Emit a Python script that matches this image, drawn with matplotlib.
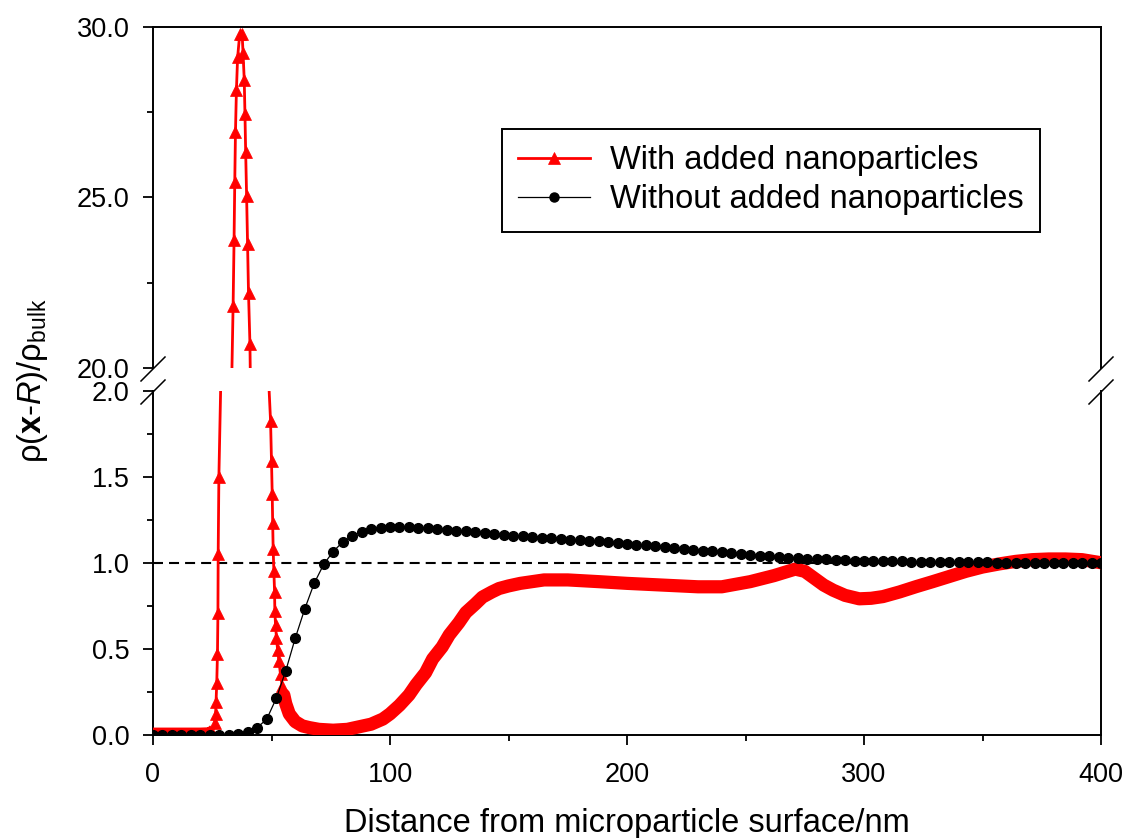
import numpy as np
import matplotlib
matplotlib.use("Agg")
import matplotlib.pyplot as plt
from matplotlib.lines import Line2D
from matplotlib.ticker import MultipleLocator, FormatStrFormatter

plt.rcParams['font.family'] = ['Liberation Sans', 'DejaVu Sans']
plt.rcParams['mathtext.fontset'] = 'custom'
plt.rcParams['mathtext.rm'] = 'Liberation Sans'
plt.rcParams['mathtext.it'] = 'Liberation Sans:italic'
plt.rcParams['mathtext.bf'] = 'Liberation Sans:bold'

# red curve: with added nanoparticles (points inside the axis break are hidden)
dist_with = [0, 5, 10, 15, 20, 24, 25.5,
             26.0, 26.4, 26.6, 26.9, 27.2, 27.4, 27.5, 27.8,
             29.4, 30.5, 31.8, 33.1,
             33.8, 34.2, 34.5, 34.8, 35.2, 35.7, 36.6, 37.6, 38.0, 38.5,
             38.8, 39.1, 39.5, 39.9, 40.3, 40.9,
             41.2, 43.0, 45.0, 47.0, 48.5,
             49.6, 50.0, 50.3, 50.5, 50.7, 51.0, 51.3, 51.4, 51.7, 52.1,
             52.6, 53.1, 53.8, 54.5,
             55.2, 56.0, 57.5, 60, 63, 66, 70, 76, 82, 87, 92, 97, 100,
             104, 108, 111, 115, 118, 122, 125, 129, 132, 136, 139, 143,
             146, 150, 155, 160, 165, 175, 188, 200, 215, 230, 240, 252,
             262, 271, 275, 278, 283, 287, 292, 298, 303, 308, 315, 322,
             329, 336, 343, 350, 357, 364, 371, 378, 385, 392, 400]
rho_with = [0.01, 0.01, 0.01, 0.01, 0.01, 0.012, 0.03,
            0.065, 0.12, 0.19, 0.30, 0.47, 0.71, 1.05, 1.50,
            2.6, 5.5, 11.5, 19.2,
            21.83, 23.74, 25.45, 26.93, 28.15, 29.11, 29.8, 29.8, 29.23, 28.45,
            27.45, 26.33, 25.03, 23.64, 22.2, 20.71,
            19.0, 13.0, 7.5, 3.8, 2.15,
            1.826, 1.59, 1.40, 1.23, 1.08, 0.95, 0.83, 0.72, 0.64, 0.56,
            0.49, 0.43, 0.35, 0.28,
            0.23, 0.18, 0.12, 0.075, 0.05, 0.04, 0.03, 0.025, 0.03, 0.045, 0.06, 0.09, 0.12,
            0.17, 0.23, 0.29, 0.36, 0.44, 0.51, 0.58, 0.65, 0.71, 0.76, 0.80, 0.83,
            0.85, 0.865, 0.88, 0.89, 0.90, 0.90, 0.89, 0.88, 0.87, 0.86, 0.86, 0.89,
            0.925, 0.963, 0.95, 0.92, 0.87, 0.84, 0.81, 0.79, 0.793, 0.803, 0.83, 0.861,
            0.89, 0.92, 0.95, 0.975, 0.993, 1.008, 1.018, 1.022, 1.022, 1.018, 1.0]

# black curve: without added nanoparticles, every 4 nm
dist_without = list(range(0, 401, 4))
rho_without = [0, 0, 0, 0, 0, 0, 0, 0, 0, 0.005,
               0.015, 0.04, 0.09, 0.21, 0.37, 0.56, 0.73, 0.88, 0.99, 1.065,
               1.12, 1.155, 1.18, 1.195, 1.203, 1.207, 1.208, 1.207, 1.204, 1.2,
               1.196, 1.192, 1.187, 1.182, 1.177, 1.172, 1.167, 1.162, 1.158, 1.154,
               1.15, 1.146, 1.142, 1.138, 1.135, 1.132, 1.128, 1.125, 1.12, 1.116,
               1.111, 1.106, 1.101, 1.096, 1.091, 1.086, 1.081, 1.076, 1.071, 1.066,
               1.061, 1.056, 1.051, 1.046, 1.042, 1.038, 1.034, 1.03, 1.027, 1.024,
               1.021, 1.019, 1.017, 1.015, 1.013, 1.012, 1.011, 1.01, 1.009, 1.008,
               1.007, 1.006, 1.005, 1.005, 1.004, 1.003, 1.003, 1.002, 1.002, 1.001,
               1.001, 1.001, 1.0, 1.0, 1.0, 1.0, 1.0, 1.0, 1.0, 1.0,
               1.0]

labels = ['With added nanoparticles', 'Without added nanoparticles']
xticks = [0, 100, 200, 300, 400]

W, H = 1125.0, 838.0
fig = plt.figure(figsize=(W / 100, H / 100), dpi=100)
left, right = 153 / W, 1101 / W
ax_top = fig.add_axes([left, 1 - 368 / H, right - left, (368 - 27) / H])
ax_bot = fig.add_axes([left, 1 - 734.5 / H, right - left, (734.5 - 391) / H])

dx = np.array(dist_with)
dy = np.array(rho_with)
dense = (dx <= 25.5) | (dx >= 55)

for ax in (ax_top, ax_bot):
    ax.plot(dx, dy, color='red', lw=2, marker='^', ms=8.5, mew=0.5,
            markevery=list(~dense), zorder=3)
    ax.set_xlim(0, 400)
    for s in ax.spines.values():
        s.set_linewidth(1.4)
    ax.tick_params(axis='y', which='both', direction='out', right=False,
                   labelsize=19.5, width=1.3, pad=10)
    ax.tick_params(axis='y', which='major', length=7)
    ax.tick_params(axis='y', which='minor', length=4)
    ax.yaxis.set_major_formatter(FormatStrFormatter('%.1f'))

# thick band where the triangles are packed together
ax_bot.plot(dx[dense][:7], dy[dense][:7], color='red', lw=7.5, solid_capstyle='butt', zorder=3.5)
ax_bot.plot(dx[dense][7:], dy[dense][7:], color='red', lw=9.5, solid_capstyle='round',
            solid_joinstyle='round', zorder=3.5)
ax_bot.axhline(1.0, color='black', lw=1.5, ls=(0, (4.8, 2.9)), zorder=1)
ax_bot.plot(dist_without, rho_without, color='black', lw=0.9, marker='o', ms=7, zorder=4)

ax_top.set_ylim(20, 30)
ax_top.set_yticks([20, 25, 30])
ax_top.yaxis.set_minor_locator(MultipleLocator(2.5))
ax_top.spines['bottom'].set_visible(False)
ax_top.tick_params(axis='x', which='both', bottom=False, top=False, labelbottom=False)

ax_bot.set_ylim(0, 2)
ax_bot.set_yticks([0, 0.5, 1.0, 1.5, 2.0])
ax_bot.yaxis.set_minor_locator(MultipleLocator(0.25))
ax_bot.spines['top'].set_visible(False)
ax_bot.set_xticks(xticks)
ax_bot.xaxis.set_minor_locator(MultipleLocator(50))
ax_bot.tick_params(axis='x', which='both', direction='out', top=False,
                   labelsize=19.5, width=1.3, pad=12)
ax_bot.tick_params(axis='x', which='major', length=7.5)
ax_bot.tick_params(axis='x', which='minor', length=4.5)

# axis break marks
d = 12
for xp in (153, 1101):
    for yp in (369, 392):
        fig.add_artist(Line2D([(xp - d) / W, (xp + d) / W],
                              [1 - (yp + d) / H, 1 - (yp - d) / H],
                              color='black', lw=1.1, transform=fig.transFigure))

handles = [Line2D([], [], color='red', lw=2, marker='^', ms=8, mew=0.5),
           Line2D([], [], color='black', lw=0.9, marker='o', ms=6.5)]
leg = fig.legend(handles, labels, loc='upper left',
                 bbox_to_anchor=(502 / W, 1 - 129 / H), bbox_transform=fig.transFigure,
                 fontsize=23.5, frameon=True, fancybox=False, edgecolor='black',
                 framealpha=1, handlelength=2.2, handletextpad=0.6,
                 borderpad=0.5, labelspacing=0.25, borderaxespad=0)
leg.get_frame().set_linewidth(1.4)

fig.text(627 / W, 1 - 832 / H, 'Distance from microparticle surface/nm',
         fontsize=23.5, ha='center', va='baseline')
fig.text(33 / W, 1 - 381 / H, r'$\mathrm{\rho}(\mathbf{x}$-$\mathit{R})/\mathrm{\rho}_{\mathrm{bulk}}$',
         fontsize=23.5, rotation=90, ha='center', va='center')

fig.savefig('out.png', dpi=100)
